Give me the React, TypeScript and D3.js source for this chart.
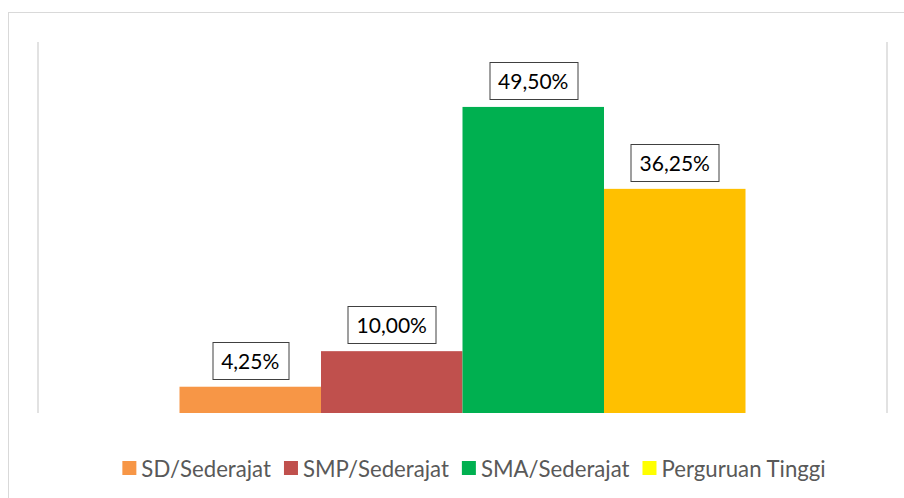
import React, { useEffect, useRef } from "react";
import * as d3 from "d3";

const categories = ["Pendidikan"];
const seriesNames = ["SD/Sederajat", "SMP/Sederajat", "SMA/Sederajat", "Perguruan Tinggi"];
const seriesValues = [4.25, 10.0, 49.5, 36.25];
const barColors = ["#F79646", "#C0504D", "#00B050", "#FFC000"];
const legendColors = ["#F79646", "#C0504D", "#00B050", "#FFFF00"];
const yDomain = [0, 60];

const W = 904;
const H = 498;
const FONT = "Lato, 'Open Sans', sans-serif";

export default function App() {
  const ref = useRef<SVGSVGElement | null>(null);

  useEffect(() => {
    document.body.style.margin = "0";
    const svg = d3.select(ref.current);
    svg.selectAll("*").remove();

    const plot = { left: 38, right: 887, top: 42, bottom: 413 };

    // chart border
    svg.append("rect")
      .attr("x", 8.5).attr("y", 12.5)
      .attr("width", W + 20).attr("height", H + 20)
      .attr("fill", "#fff").attr("stroke", "#d9d9d9").attr("stroke-width", 1);

    const y = d3.scaleLinear().domain(yDomain).range([plot.bottom, plot.top]);
    const x0 = d3.scaleBand().domain(categories).range([plot.left, plot.right]).paddingInner(0.2).paddingOuter(0.2);
    const x1 = d3.scaleBand().domain(seriesNames).range([0, x0.bandwidth()]).padding(0);

    // side lines
    [plot.left, plot.right].forEach((xx) => {
      svg.append("line")
        .attr("x1", xx).attr("x2", xx).attr("y1", y(yDomain[1])).attr("y2", y(0))
        .attr("stroke", "#d9d9d9").attr("stroke-width", 1.5);
    });

    const data = seriesNames.map((s, i) => ({ s, v: seriesValues[i], c: barColors[i] }));
    const g = svg.append("g").attr("transform", `translate(${x0(categories[0])},0)`);

    g.selectAll("rect.bar").data(data).enter().append("rect")
      .attr("class", "bar")
      .attr("x", (d) => x1(d.s)!)
      .attr("y", (d) => y(d.v))
      .attr("width", x1.bandwidth())
      .attr("height", (d) => y(0) - y(d.v))
      .attr("fill", (d) => d.c);

    const fmt = (v: number) => v.toFixed(2).replace(".", ",") + "%";

    data.forEach((d) => {
      const cx = x1(d.s)! + x1.bandwidth() / 2;
      const boxBottom = y(d.v) - 8;
      const boxH = 37;
      const lg = g.append("g");
      const rect = lg.append("rect");
      const t = lg.append("text")
        .attr("x", cx).attr("y", boxBottom - boxH / 2)
        .attr("text-anchor", "middle").attr("dominant-baseline", "central")
        .attr("font-family", FONT).attr("font-size", 21).attr("fill", "#000")
        .text(fmt(d.v));
      const tw = (t.node() as SVGTextElement).getComputedTextLength();
      const bw = tw + 18;
      rect.attr("x", Math.round(cx - bw / 2) + 0.5).attr("y", Math.round(boxBottom - boxH) + 0.5)
        .attr("width", Math.round(bw)).attr("height", boxH)
        .attr("fill", "#fff").attr("stroke", "#404040").attr("stroke-width", 1);
    });

    // legend
    const legY = 468;
    const items = svg.append("g");
    const widths: number[] = [];
    const texts: any[] = [];
    seriesNames.forEach((s) => {
      const t = items.append("text")
        .attr("y", legY).attr("dominant-baseline", "central")
        .attr("font-family", FONT).attr("font-size", 22.2).attr("fill", "#595959").text(s);
      texts.push(t);
      widths.push((t.node() as SVGTextElement).getComputedTextLength());
    });
    const sq = 14, gapSq = 5, gapItem = 13;
    const total = d3.sum(widths) + seriesNames.length * (sq + gapSq) + (seriesNames.length - 1) * gapItem;
    let cur = (plot.left + plot.right) / 2 - total / 2 + 11.5;
    seriesNames.forEach((s, i) => {
      items.append("rect").attr("x", cur).attr("y", legY - sq / 2).attr("width", sq).attr("height", sq).attr("fill", legendColors[i]);
      texts[i].attr("x", cur + sq + gapSq);
      cur += sq + gapSq + widths[i] + gapItem;
    });
  }, []);

  return (
    <svg ref={ref} width={W} height={H} style={{ display: "block", position: "absolute", left: 0, top: 0 }} />
  );
}
